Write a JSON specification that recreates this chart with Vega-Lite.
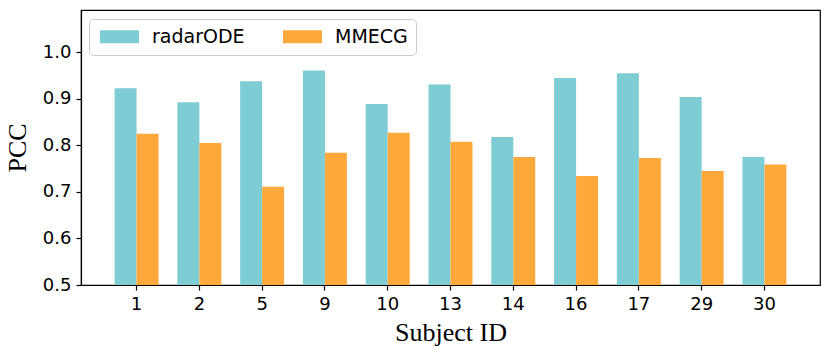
{
  "$schema": "https://vega.github.io/schema/vega-lite/v6.json",
  "autosize": {"type": "none"},
  "width": 739,
  "height": 275,
  "padding": {"left": 81, "top": 10, "right": 10, "bottom": 70},
  "background": "white",
  "data": {
    "values": [
      {"id": "1", "method": "radarODE", "pcc": 0.923},
      {"id": "1", "method": "MMECG", "pcc": 0.825},
      {"id": "2", "method": "radarODE", "pcc": 0.893},
      {"id": "2", "method": "MMECG", "pcc": 0.805},
      {"id": "5", "method": "radarODE", "pcc": 0.938},
      {"id": "5", "method": "MMECG", "pcc": 0.711},
      {"id": "9", "method": "radarODE", "pcc": 0.961},
      {"id": "9", "method": "MMECG", "pcc": 0.784},
      {"id": "10", "method": "radarODE", "pcc": 0.889},
      {"id": "10", "method": "MMECG", "pcc": 0.827},
      {"id": "13", "method": "radarODE", "pcc": 0.931},
      {"id": "13", "method": "MMECG", "pcc": 0.808},
      {"id": "14", "method": "radarODE", "pcc": 0.818},
      {"id": "14", "method": "MMECG", "pcc": 0.775},
      {"id": "16", "method": "radarODE", "pcc": 0.945},
      {"id": "16", "method": "MMECG", "pcc": 0.734},
      {"id": "17", "method": "radarODE", "pcc": 0.955},
      {"id": "17", "method": "MMECG", "pcc": 0.773},
      {"id": "29", "method": "radarODE", "pcc": 0.904},
      {"id": "29", "method": "MMECG", "pcc": 0.745},
      {"id": "30", "method": "radarODE", "pcc": 0.775},
      {"id": "30", "method": "MMECG", "pcc": 0.759}
    ]
  },
  "mark": {"type": "bar", "clip": true},
  "encoding": {
    "x": {
      "field": "id",
      "type": "ordinal",
      "sort": null,
      "title": "Subject ID",
      "scale": {"paddingInner": 0.3, "paddingOuter": 0.535},
      "axis": {"labelAngle": 0, "labelPadding": 5, "titlePadding": 6}
    },
    "xOffset": {
      "field": "method",
      "type": "nominal",
      "sort": ["radarODE", "MMECG"],
      "scale": {"paddingInner": 0, "paddingOuter": 0}
    },
    "y": {
      "field": "pcc",
      "type": "quantitative",
      "title": "PCC",
      "scale": {"domain": [0.5, 1.091], "nice": false, "zero": false},
      "axis": {"values": [0.5, 0.6, 0.7, 0.8, 0.9, 1.0], "format": ".1f", "labelPadding": 5, "titlePadding": 12}
    },
    "color": {
      "field": "method",
      "type": "nominal",
      "sort": ["radarODE", "MMECG"],
      "scale": {"domain": ["radarODE", "MMECG"], "range": ["#7FCDD4", "#FFA83C"]},
      "legend": {
        "title": null,
        "orient": "none",
        "legendX": 8,
        "legendY": 9,
        "direction": "horizontal",
        "columnPadding": 35,
        "symbolType": "M-1,-1H5V1H-1Z",
        "symbolSize": 169,
        "symbolStrokeWidth": 0,
        "symbolOpacity": 1,
        "labelOffset": 36,
        "labelFont": "DejaVu Sans",
        "labelFontSize": 19,
        "labelColor": "black",
        "padding": 8,
        "strokeColor": "#cccccc",
        "cornerRadius": 4,
        "fillColor": "white"
      }
    }
  },
  "config": {
    "view": {"stroke": "black", "strokeWidth": 1.2},
    "axis": {
      "grid": false,
      "domainColor": "black",
      "domainWidth": 1.2,
      "tickColor": "black",
      "tickWidth": 1.2,
      "tickSize": 5,
      "labelFont": "DejaVu Sans",
      "labelFontSize": 18,
      "labelColor": "black",
      "titleFont": "Liberation Serif",
      "titleFontSize": 26,
      "titleFontWeight": "normal",
      "titleColor": "black"
    }
  }
}
